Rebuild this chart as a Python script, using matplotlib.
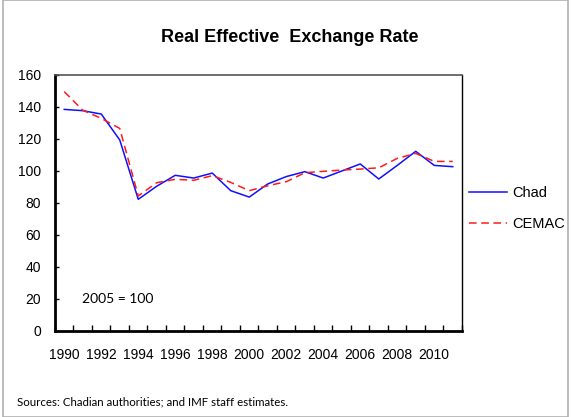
import matplotlib
matplotlib.use("Agg")
import matplotlib.pyplot as plt
import numpy as np

# data (index 2005 = 100)
years = list(range(1990, 2012))
chad = [138.5, 137.7, 135.6, 119.4, 82.3, 90.5, 97.3, 95.6, 98.7, 87.7, 83.7,
        91.9, 96.5, 99.6, 95.6, 100.0, 104.4, 95.0, 103.5, 112.3, 103.5, 102.7]
cemac = [149.6, 138.0, 132.9, 126.6, 84.4, 92.7, 94.8, 94.2, 97.1, 92.9, 87.7,
         90.8, 93.3, 98.9, 99.8, 100.6, 101.2, 102.0, 107.9, 111.0, 106.0, 106.0]
tick_labels = [str(y) for y in years[::2]]

plt.rcParams['font.family'] = ['Liberation Sans', 'DejaVu Sans']

fig = plt.figure(figsize=(5.71, 4.17), dpi=100)
ax = fig.add_axes([55/571, 1 - 331/417, 407/571, 256/417])

x = np.arange(len(years))
ax.plot(x, chad, color='#1010ff', lw=1.1, label='Chad')
ax.plot(x, cemac, color='#ff1a1a', lw=1.1, ls=(0, (5, 3)), label='CEMAC')

ax.set_xlim(-0.5, len(years) - 0.5)
ax.set_ylim(0, 160)
ax.set_yticks(range(0, 161, 20))
ax.tick_params(axis='y', direction='in', length=3, width=1, labelsize=10, pad=10)

# category axis: ticks between categories, labels every 2 years
ax.set_xticks(np.arange(-0.5, len(years), 1), minor=False)
ax.set_xticklabels([])
ax.tick_params(axis='x', direction='in', length=4, width=1)
ax.set_xticks(x[::2], minor=True)
ax.set_xticklabels(tick_labels, minor=True, fontsize=10)
ax.tick_params(axis='x', which='minor', length=0, pad=12)

for s in ['left', 'bottom']:
    ax.spines[s].set_linewidth(2)
    ax.spines[s].set_color('black')
ax.spines['top'].set_color('#555555')
ax.spines['top'].set_linewidth(1.2)
ax.spines['right'].set_linewidth(1)

ax.text(0.96, 20, '2005 = 100', fontsize=10, family=['Lato', 'DejaVu Sans'],
        va='center', ha='left')

fig.text(290/571, 1 - 37/417, 'Real Effective  Exchange Rate', fontsize=13,
         fontweight='bold', ha='center', va='center')

leg = fig.legend(loc='upper left', bbox_to_anchor=(469/571, 1 - 186/417),
                 frameon=False, fontsize=10.5, handlelength=2.6,
                 labelspacing=1.2, handletextpad=0.35, borderpad=0,
                 borderaxespad=0)

fig.text(17/571, 1 - 402/417, 'Sources: Chadian authorities; and IMF staff estimates.',
         fontsize=8.3, family=['Lato', 'DejaVu Sans'], va='center', ha='left')

border = plt.Rectangle((3/571, 0), 1 - 6/571, 1, transform=fig.transFigure,
                       fill=False, edgecolor='#b0b0b0', lw=1.2)
fig.patches.append(border)

fig.savefig('out.png', dpi=100)
